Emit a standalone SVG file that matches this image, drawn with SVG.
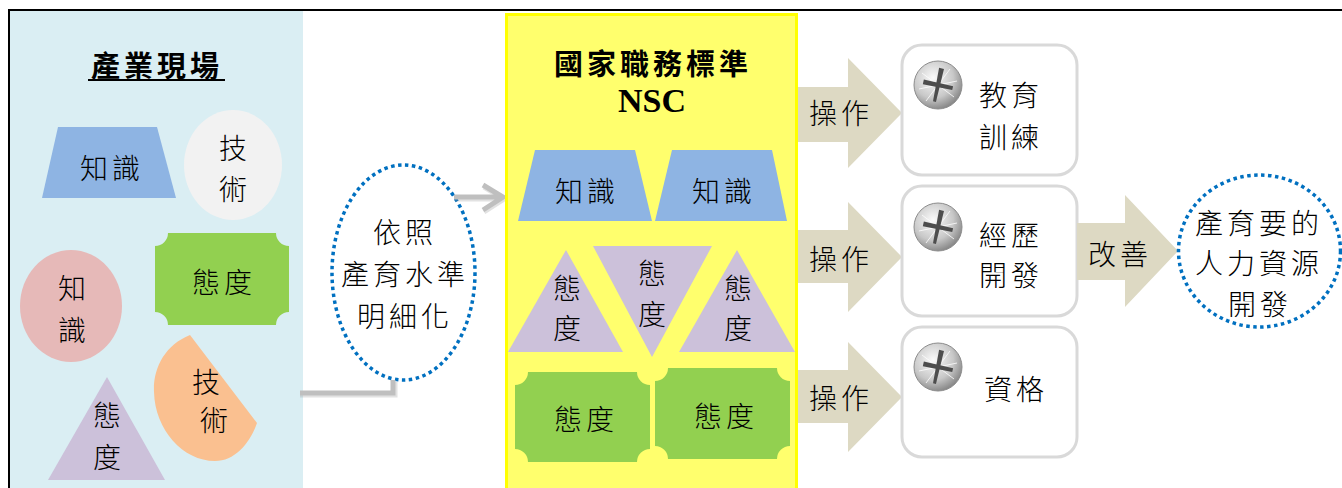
<svg xmlns="http://www.w3.org/2000/svg" width="1342" height="488" viewBox="0 0 1342 488">
<defs>
<style>
.t{font-family:"Noto Sans CJK TC","Noto Sans CJK SC",sans-serif;font-size:28px;font-weight:300;fill:#000;text-anchor:middle;dominant-baseline:central;letter-spacing:4px}
.tb{font-weight:bold;font-size:29px}
.know{fill:#8EB4E3}
.att{fill:#CCC1DA}
.plq{fill:#92D050}
.arr{fill:#DDD9C3}
.box{fill:#FFFFFF;stroke:#D9D9D9;stroke-width:3}
.dot{fill:none;stroke:#0070C0;stroke-width:3.5;stroke-dasharray:3.5 3.5}
.conn{fill:none;stroke:#BFBFBF;stroke-width:5}
.shad{fill:none;stroke:#8C8C8C;stroke-width:5;opacity:0.25}
</style>
<radialGradient id="scr" cx="0.4" cy="0.35" r="0.7">
<stop offset="0" stop-color="#FAFAFA"/>
<stop offset="0.6" stop-color="#C8C8C8"/>
<stop offset="1" stop-color="#7F7F7F"/>
</radialGradient>
<g id="screw">
<circle cx="0" cy="0" r="24" fill="url(#scr)" stroke="#8C8C8C" stroke-width="1"/>
<g stroke="#FFFFFF" stroke-width="1" opacity="0.8">
<line x1="-16" y1="-12" x2="16" y2="12"/>
<line x1="-12" y1="16" x2="12" y2="-16"/>
<line x1="-19" y1="4" x2="19" y2="-4"/>
</g>
<g transform="rotate(12)">
<polygon points="-2.5,-17 2.5,-17 1.5,17 -1.5,17" fill="#4D4D4D"/>
<polygon points="-15,-2.5 15,-2 15,2 -15,2.5" fill="#4D4D4D"/>
</g>
</g>
</defs>

<rect x="0" y="0" width="1342" height="488" fill="#FFFFFF"/>

<g id="frame">
<rect x="10" y="11" width="293" height="477" fill="#DAEEF3"/>
<line x1="8" y1="10" x2="1342" y2="10" stroke="#000" stroke-width="2"/>
<line x1="9" y1="10" x2="9" y2="488" stroke="#000" stroke-width="2"/>
</g>

<g id="industry">
<text class="t tb" x="157" y="64" letter-spacing="3">產業現場</text>
<line x1="88" y1="80" x2="225" y2="80" stroke="#000" stroke-width="2"/>
</g>

<g id="ind-knowledge1">
<polygon class="know" points="58,127 157,127 176,198 42,198"/>
<text class="t" x="112" y="167">知識</text>
</g>
<g id="ind-skill1">
<ellipse cx="233" cy="165" rx="49" ry="55" fill="#F2F2F2"/>
<text class="t" x="235" y="147">技</text>
<text class="t" x="235" y="188">術</text>
</g>
<g id="ind-attitude1">
<path class="plq" d="M168,233 L276,233 A13,13 0 0 0 289,246 L289,312 A13,13 0 0 0 276,325 L168,325 A13,13 0 0 0 155,312 L155,246 A13,13 0 0 0 168,233 Z"/>
<text class="t" x="224" y="281">態度</text>
</g>
<g id="ind-knowledge2">
<ellipse cx="71" cy="306" rx="51" ry="56" fill="#E6B9B8"/>
<text class="t" x="74" y="287">知</text>
<text class="t" x="74" y="329">識</text>
</g>
<g id="ind-skill2">
<path d="M190,335 C165,345 153,368 154,392 C155,430 183,461 215,461 C235,461 250,443 257,423 Z" fill="#FAC090"/>
<text class="t" x="208" y="381">技</text>
<text class="t" x="216" y="419">術</text>
</g>
<g id="ind-attitude2">
<polygon class="att" points="107,377 165,480 48,480"/>
<text class="t" x="109" y="414">態</text>
<text class="t" x="109" y="456">度</text>
</g>

<g id="detail">
<ellipse class="dot" cx="403.5" cy="272.5" rx="71.5" ry="107.5" fill="#FFFFFF"/>
<text class="t" x="405" y="231">依照</text>
<text class="t" x="405" y="273">產育水準</text>
<text class="t" x="405" y="315">明細化</text>
</g>

<g id="connectors">
<path class="shad" d="M300,395 L395,395 L395,382"/>
<path class="conn" d="M300,393 L393,393 L393,380"/>
<path class="shad" d="M455,199 L504,199 M484,187 L504,199 L484,212"/>
<path class="conn" d="M454,197 L503,197 M483,185 L503,197 L483,210"/>
</g>

<g id="nsc">
<rect x="506.5" y="14.5" width="290" height="480" fill="#FFFF6D" stroke="#FFFF00" stroke-width="3"/>
<text class="t tb" x="653" y="62" letter-spacing="3">國家職務標準</text>
<text x="652" y="112" font-family="Liberation Serif" font-weight="bold" font-size="34" text-anchor="middle">NSC</text>
</g>

<g id="nsc-knowledge1">
<polygon class="know" points="535,150 635,150 652,221 518,221"/>
<text class="t" x="587" y="190">知識</text>
</g>
<g id="nsc-knowledge2">
<polygon class="know" points="672,150 772,150 787,221 655,221"/>
<text class="t" x="724" y="190">知識</text>
</g>
<g id="nsc-attitude1">
<polygon class="att" points="566,250 623,352 508,352"/>
<text class="t" x="569" y="287">態</text>
<text class="t" x="569" y="327">度</text>
</g>
<g id="nsc-attitude2">
<polygon class="att" points="593,246 712,246 652,357"/>
<text class="t" x="654" y="272">態</text>
<text class="t" x="654" y="313">度</text>
</g>
<g id="nsc-attitude3">
<polygon class="att" points="737,250 795,352 679,352"/>
<text class="t" x="740" y="287">態</text>
<text class="t" x="740" y="327">度</text>
</g>
<g id="nsc-attitude4">
<path class="plq" d="M528,372 L637,372 A13,13 0 0 0 650,385 L650,449 A13,13 0 0 0 637,462 L528,462 A13,13 0 0 0 515,449 L515,385 A13,13 0 0 0 528,372 Z"/>
<text class="t" x="586" y="418">態度</text>
</g>
<g id="nsc-attitude5">
<path class="plq" d="M668,368 L777,368 A13,13 0 0 0 790,381 L790,446 A13,13 0 0 0 777,459 L668,459 A13,13 0 0 0 655,446 L655,381 A13,13 0 0 0 668,368 Z"/>
<text class="t" x="726" y="415">態度</text>
</g>

<g id="op1">
<polygon class="arr" points="798,87 848,87 848,58 902,113 848,168 848,142 798,142"/>
<text class="t" x="841" y="112">操作</text>
</g>
<g id="op2">
<polygon class="arr" points="798,230 848,230 848,202 902,257 848,312 848,283 798,283"/>
<text class="t" x="841" y="258">操作</text>
</g>
<g id="op3">
<polygon class="arr" points="798,370 848,370 848,342 902,397 848,452 848,423 798,423"/>
<text class="t" x="841" y="397">操作</text>
</g>

<g id="training">
<rect class="box" x="902" y="45" width="175" height="130" rx="20"/>
<use href="#screw" x="938" y="85"/>
<text class="t" x="1011" y="94">教育</text>
<text class="t" x="1011" y="136">訓練</text>
</g>
<g id="experience">
<rect class="box" x="902" y="186" width="175" height="130" rx="20"/>
<use href="#screw" x="938" y="227"/>
<text class="t" x="1011" y="234">經歷</text>
<text class="t" x="1011" y="274">開發</text>
</g>
<g id="qualification">
<rect class="box" x="902" y="327" width="175" height="130" rx="20"/>
<use href="#screw" x="938" y="367"/>
<text class="t" x="1016" y="388">資格</text>
</g>

<g id="improve">
<polygon class="arr" points="1077,223 1125,223 1125,195 1178,251 1125,307 1125,280 1077,280"/>
<text class="t" x="1120" y="253">改善</text>
</g>

<g id="hrd">
<ellipse class="dot" cx="1259.5" cy="251" rx="81" ry="76" fill="#FFFFFF"/>
<text class="t" x="1259" y="222">產育要的</text>
<text class="t" x="1259" y="262">人力資源</text>
<text class="t" x="1260" y="303">開發</text>
</g>
</svg>
